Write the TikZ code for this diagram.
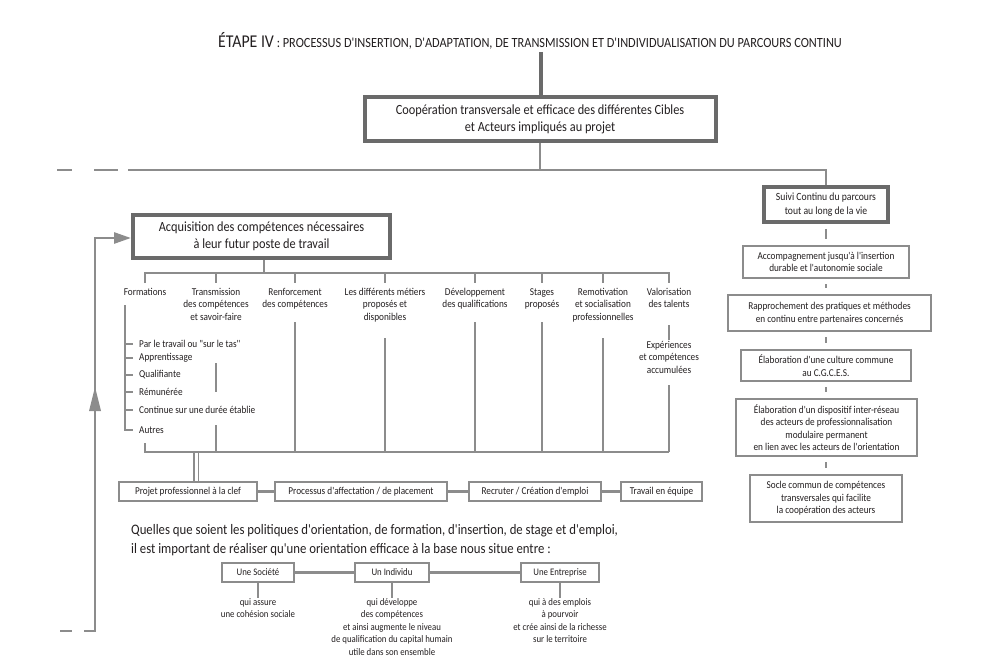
\documentclass[tikz,border=0pt]{standalone}
\usepackage{fontspec}
\setmainfont{Carlito}[FakeStretch=0.88,Ligatures=TeXOff]
\usetikzlibrary{arrows.meta}
\definecolor{linegray}{HTML}{8C8C8C}
\definecolor{boxgray}{HTML}{6A6A6A}
\definecolor{txt}{HTML}{231F20}
\begin{document}
\begin{tikzpicture}[x=1pt,y=-1pt,
  every node/.style={text=txt},
  conn/.style={draw=linegray,line width=2.7pt},
  thinln/.style={draw=linegray,line width=1.2pt},
  bigbox/.style={draw=boxgray,line width=4pt,fill=white,align=center,inner sep=0pt,font=\fontsize{14}{17}\selectfont},
  midbox/.style={draw=boxgray,line width=3.5pt,fill=white,align=center,inner sep=0pt,font=\fontsize{11}{13.5}\selectfont},
  rbox/.style={draw=linegray,line width=2.7pt,fill=white,align=center,inner sep=0pt,font=\fontsize{10.5}{12.5}\selectfont},
  sbox/.style={draw=linegray,line width=2.7pt,fill=white,align=center,inner sep=0pt,minimum height=19pt,font=\fontsize{10.5}{12.5}\selectfont},
  lbl/.style={align=center,inner sep=0pt,anchor=north,font=\fontsize{10.5}{12.3}\selectfont},
  itm/.style={anchor=west,inner sep=0pt,font=\fontsize{10.5}{12.5}\selectfont},
  desc/.style={align=center,inner sep=0pt,anchor=north,font=\fontsize{10}{12.6}\selectfont},
]
\useasboundingbox (0,0) rectangle (996,666);

% title
\node[inner sep=0pt] (title) at (530,41) {{\fontsize{18}{20}\selectfont ÉTAPE IV}{\fontsize{14}{16}\selectfont\ : PROCESSUS D'INSERTION, D'ADAPTATION, DE TRANSMISSION ET D'INDIVIDUALISATION DU PARCOURS CONTINU}};

% top box
\node[bigbox,minimum width=351pt,minimum height=44pt] (coop) at (540,119) {Coopération transversale et efficace des différentes Cibles\\et Acteurs impliqués au projet};
\draw[draw=boxgray,line width=4pt] (541,52) -- (541,97);

% main horizontal
\coordinate (hl) at (540,170);
\draw[conn] (coop.south) -- (hl);
\draw[conn] (57,170) -- (72,170);
\draw[conn] (94,170) -- (118,170);

% right column
\node[midbox,minimum width=124pt,minimum height=35pt] (suivi) at (826,204.5) {Suivi Continu du parcours\\tout au long de la vie};
\draw[conn] (128,170) -- (826,170) -- (suivi.north);
\node[rbox,minimum width=166pt,minimum height=32pt] (b2) at (826,262) {Accompagnement jusqu'à l'insertion\\durable et l'autonomie sociale};
\node[rbox,minimum width=203pt,minimum height=36pt] (b3) at (829.5,313) {Rapprochement des pratiques et méthodes\\en continu entre partenaires concernés};
\node[rbox,minimum width=170pt,minimum height=31pt] (b4) at (826,365.5) {Élaboration d'une culture commune\\au C.G.C.E.S.};
\node[rbox,minimum width=181pt,minimum height=57pt] (b5) at (826.5,427.5) {Élaboration d'un dispositif inter-réseau\\des acteurs de professionnalisation\\modulaire permanent\\en lien avec les acteurs de l'orientation};
\node[rbox,minimum width=152pt,minimum height=47pt] (b6) at (826,498.5) {Socle commun de compétences\\transversales qui facilite\\la coopération des acteurs};
\foreach \a/\b in {suivi/b2,b2/b3,b3/b4,b4/b5,b5/b6}
  \draw[conn,shorten <=5pt,shorten >=6pt] (\a.south -| 826,0) -- (\b.north -| 826,0);

% acquisition box
\node[bigbox,minimum width=257pt,minimum height=43pt] (acq) at (261.5,236.5) {Acquisition des compétences nécessaires\\à leur futur poste de travail};
\draw[conn] (60,631) -- (72,631);
\draw[conn,-{Triangle[length=17pt,width=11pt]}] (84,631) -- (95,631) -- (95,238) -- (acq.west |- 0,238);
\fill[linegray] (95,387) -- (89,411) -- (101,411) -- cycle;

% columns
\draw[conn] (acq.south -| 264,0) -- (264,273);
\draw[conn] (145,283) -- (145,273) -- (669,273) -- (669,283);
\foreach \x in {216,295,385,475,542,603} \draw[conn] (\x,273) -- (\x,283);
\node[lbl] (c1) at (145,288) {Formations};
\node[lbl] (c2) at (216,288) {Transmission\\des compétences\\et savoir-faire};
\node[lbl] (c3) at (295,288) {Renforcement\\des compétences};
\node[lbl] (c4) at (385,288) {Les différents métiers\\proposés et\\disponibles};
\node[lbl] (c5) at (475,288) {Développement\\des qualifications};
\node[lbl] (c6) at (542,288) {Stages\\proposés};
\node[lbl] (c7) at (603,288) {Remotivation\\et socialisation\\professionnelles};
\node[lbl] (c8) at (669,288) {Valorisation\\des talents};
\node[lbl] (c8b) at (669,341) {Expériences\\et compétences\\accumulées};

% formations list
\draw[thinln] (125,305) -- (125,430) -- (133,430);
\foreach \y in {344,358,375,392,410} \draw[thinln] (125,\y) -- (133,\y);
\node[itm] (i1) at (139,344) {Par le travail ou "sur le tas"};
\node[itm] (i2) at (139,358) {Apprentissage};
\node[itm] (i3) at (139,375) {Qualifiante};
\node[itm] (i4) at (139,392) {Rémunérée};
\node[itm] (i5) at (139,410) {Continue sur une durée établie};
\node[itm] (i6) at (139,430) {Autres};

% verticals to bottom bar
\draw[conn] (145,443) -- (145,452) -- (669,452);
\draw[conn] (216,363) -- (216,392);
\draw[conn] (216,425) -- (216,452);
\draw[conn] (295,322) -- (295,452);
\draw[conn] (385,338) -- (385,452);
\draw[conn] (475,322) -- (475,452);
\draw[conn] (542,322) -- (542,452);
\draw[conn] (603,338) -- (603,452);
\draw[conn] (669,325) -- (669,340);
\draw[conn] (669,385) -- (669,452);

% bottom boxes
\node[sbox,minimum width=138pt] (p1) at (188,491.5) {Projet professionnel à la clef};
\node[sbox,minimum width=172pt] (p2) at (361,491.5) {Processus d'affectation / de placement};
\node[sbox,minimum width=132pt] (p3) at (535,491.5) {Recruter / Création d'emploi};
\node[sbox,minimum width=81pt] (p4) at (661.5,491.5) {Travail en équipe};
\draw[conn,line width=1.8pt] (194,452) -- (194,481);
\draw[conn,line width=1.8pt] (198.5,452) -- (198.5,481);
\draw[conn] (p1) -- (p2);
\draw[conn] (p2) -- (p3);
\draw[conn] (p3) -- (p4);

% bottom text
\node[anchor=west,inner sep=0pt,align=left,font=\fontsize{14.5}{19}\selectfont] (q) at (131,540.5) {Quelles que soient les politiques d'orientation, de formation, d'insertion, de stage et d'emploi,\\il est important de réaliser qu'une orientation efficace à la base nous situe entre :};

\node[sbox,minimum width=72pt,font=\fontsize{10}{12}\selectfont] (s1) at (258,572.5) {Une Société};
\node[sbox,minimum width=74pt,font=\fontsize{10}{12}\selectfont] (s2) at (392,572.5) {Un Individu};
\node[sbox,minimum width=78pt,font=\fontsize{10}{12}\selectfont] (s3) at (560,572.5) {Une Entreprise};
\draw[conn] (s1) -- (s2);
\draw[conn] (s2) -- (s3);
\draw[conn] (s1.south) -- ++(0,15);
\draw[conn] (s2.south) -- ++(0,15);
\draw[conn] (s3.south) -- ++(0,15);
\node[desc] (d1) at (258,598) {qui assure\\une cohésion sociale};
\node[desc] (d2) at (392,598) {qui développe\\des compétences\\et ainsi augmente le niveau\\de qualification du capital humain\\utile dans son ensemble};
\node[desc] (d3) at (560,598) {qui à des emplois\\à pourvoir\\et crée ainsi de la richesse\\sur le territoire};
\end{tikzpicture}
\end{document}
